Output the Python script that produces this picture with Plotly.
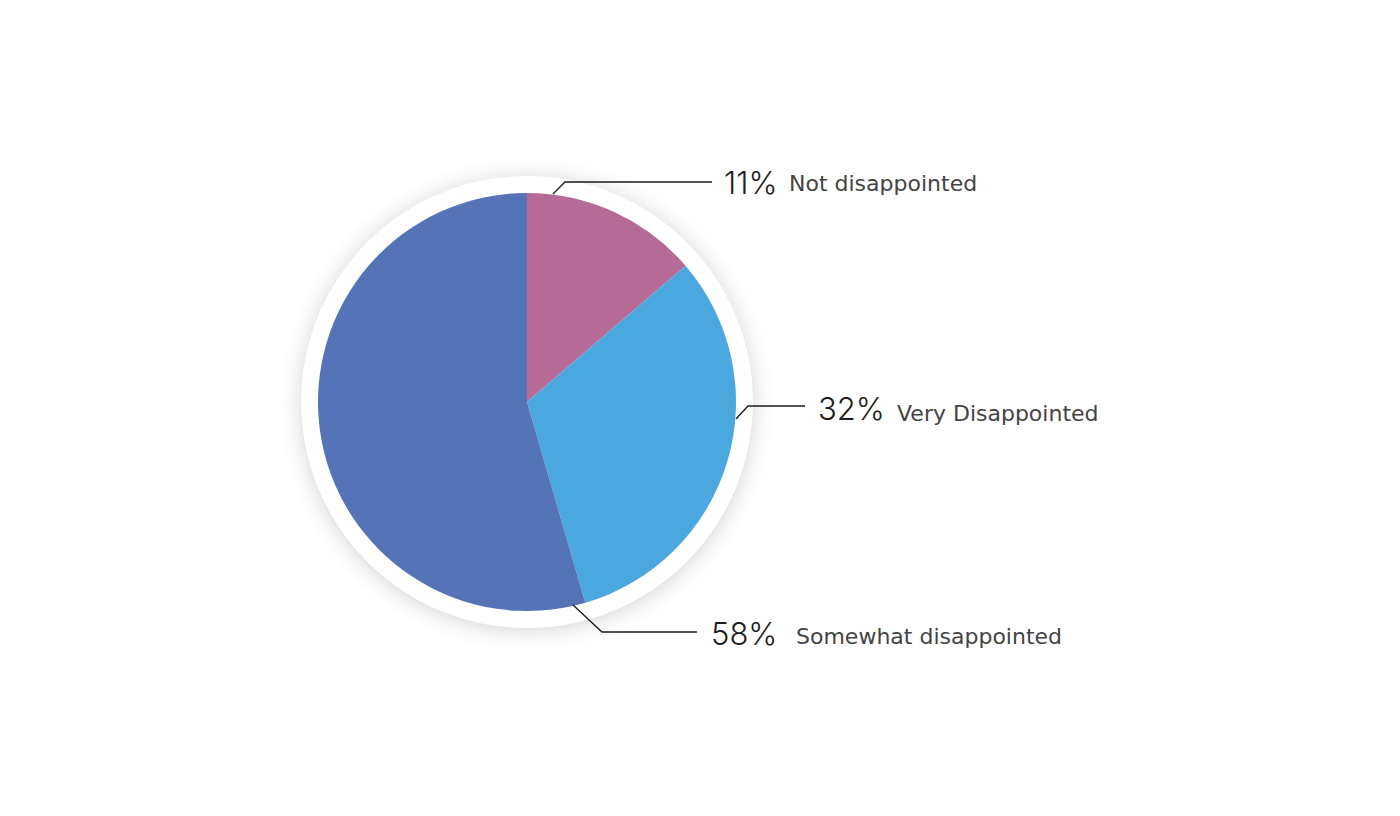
import plotly.graph_objects as go

# Data (slice sizes as drawn; labels as printed)
categories = ["Not disappointed", "Very Disappointed", "Somewhat disappointed"]
slice_values = [13.7, 31.8, 54.5]
pct_labels = ["11%", "32%", "58%"]
colors = ["#B56B96", "#4BA8DF", "#5573B7"]

W, H = 1400, 816
def px(x):
    return x / W
def py(y):
    return 1 - y / H

cx, cy, r = 527, 402, 209

fig = go.Figure(go.Pie(
    labels=categories,
    values=slice_values,
    marker=dict(colors=colors, line=dict(width=0)),
    sort=False,
    direction="clockwise",
    rotation=0,
    textinfo="none",
    hoverinfo="label+percent",
    showlegend=False,
    domain=dict(x=[px(cx - r), px(cx + r)], y=[py(cy + r), py(cy - r)]),
))

shapes = []
# soft shadow rings
for rr, op in [(246, 0.006), (242, 0.008), (238, 0.010), (235, 0.012), (232, 0.014), (229, 0.016), (227, 0.02)]:
    shapes.append(dict(type="circle", xref="paper", yref="paper", layer="below",
                       x0=px(cx - rr), x1=px(cx + rr), y0=py(cy + rr + 2), y1=py(cy - rr + 2),
                       fillcolor=f"rgba(0,0,0,{op})", line=dict(width=0)))
R2 = 226
shapes.append(dict(type="circle", xref="paper", yref="paper", layer="below",
                   x0=px(cx - R2), x1=px(cx + R2), y0=py(cy + R2), y1=py(cy - R2),
                   fillcolor="white", line=dict(width=0)))

# leader lines (pixel points)
leaders = [
    [(553, 194), (565, 182), (712, 182)],
    [(736, 419), (748, 406), (805, 406)],
    [(573, 605), (602, 632), (697, 632)],
]
for pts in leaders:
    path = "M " + " L ".join(f"{px(x)},{py(y)}" for x, y in pts)
    shapes.append(dict(type="path", xref="paper", yref="paper", path=path,
                       line=dict(color="#1a1a1a", width=1.3)))

# label positions
pct_pos = [(722, 182), (816, 408), (709, 633)]
cat_pos = [(787, 184), (895, 413), (794, 636)]

annotations = []
for lab, (x, y) in zip(pct_labels, pct_pos):
    annotations.append(dict(text=lab, x=px(x), y=py(y), xref="paper", yref="paper",
                            xanchor="left", yanchor="middle", showarrow=False,
                            font=dict(family="Inter", size=31, color="#1e1e1e", weight=300)))
for lab, (x, y) in zip(categories, cat_pos):
    annotations.append(dict(text=lab, x=px(x), y=py(y), xref="paper", yref="paper",
                            xanchor="left", yanchor="middle", showarrow=False,
                            font=dict(family="DejaVu Sans", size=22, color="#444444")))

fig.update_layout(
    width=W, height=H,
    margin=dict(l=0, r=0, t=0, b=0),
    paper_bgcolor="white",
    plot_bgcolor="white",
    shapes=shapes,
    annotations=annotations,
)

fig.write_html("out.html", config={"displayModeBar": False},
               post_script="document.body.style.margin='0';")
